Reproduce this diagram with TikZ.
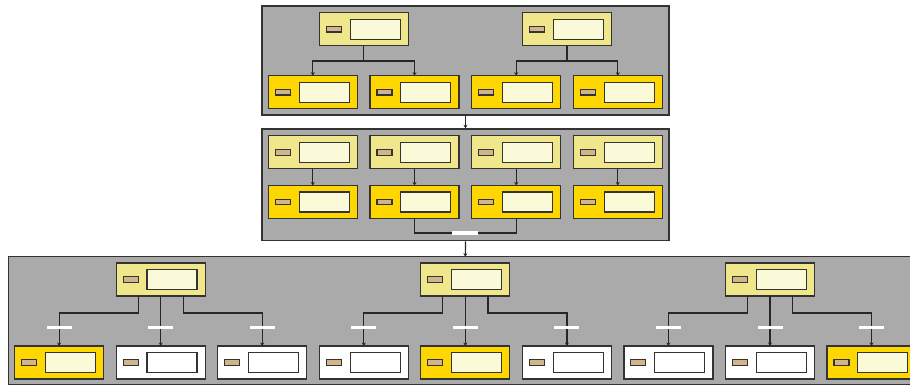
\documentclass[tikz,border=0pt]{standalone}
\usetikzlibrary{arrows.meta}
\definecolor{panelgray}{HTML}{AAAAAA}
\definecolor{khakic}{HTML}{F0E68C}
\definecolor{goldc}{HTML}{FFD700}
\definecolor{creamc}{HTML}{FAFAD8}
\definecolor{tanc}{HTML}{D2B48C}
\definecolor{edgec}{HTML}{333333}
\tikzset{
  panel/.style={draw=edgec,line width=1.4pt,fill=panelgray},
  ubox/.style={draw=edgec,line width=1.3pt,rectangle,minimum width=89pt,minimum height=33pt,inner sep=0pt,outer sep=0pt},
  tanbox/.style={draw=edgec,line width=1.1pt,fill=tanc,rectangle,minimum width=15pt,minimum height=5.6pt,inner sep=0pt},
  inbox/.style={draw=edgec,line width=1.2pt,rectangle,minimum width=50pt,minimum height=20pt,inner sep=0pt},
  conn/.style={draw=black!85,line width=1.2pt},
  arr/.style={conn,-{Stealth[length=3.5pt,width=4pt]}},
  wbar/.style={fill=white,draw=none,rectangle,minimum width=25pt,minimum height=3.8pt,inner sep=0pt}
}
\newcommand\unitbox[5]{%
  \node[ubox,fill=#4] (#1) at (#2,#3) {};
  \node[tanbox] (#1t) at ([xshift=-30pt]#1.center) {};
  \node[inbox,fill=#5] (#1i) at ([xshift=11.3pt]#1.center) {};
}
\begin{document}
\begin{tikzpicture}[x=1pt,y=-1pt]
\useasboundingbox (0,0) rectangle (910,385);
\clip (0,0) rectangle (910,385);
% panels
\node[panel,rectangle,minimum width=407pt,minimum height=109pt,inner sep=0pt] (P1) at (465.5,60.5) {};
\node[panel,rectangle,minimum width=407pt,minimum height=111.7pt,inner sep=0pt] (P2) at (465.5,184.85) {};
\draw[panel] (8.3,256.7) rectangle (930,384.3);
\coordinate (P3top) at (465.3,256.7);
% top panel
\unitbox{ta}{363.8}{29.2}{khakic}{creamc}
\unitbox{tb}{567}{29.2}{khakic}{creamc}
\unitbox{t1}{312.8}{92.2}{goldc}{creamc}
\unitbox{t2}{414.5}{92.2}{goldc}{creamc}
\unitbox{t3}{516.2}{92.2}{goldc}{creamc}
\unitbox{t4}{617.8}{92.2}{goldc}{creamc}
\draw[conn] (ta.south) -- ++(0,15.3) coordinate (ja);
\draw[arr] (ja) -| (t1.north);
\draw[arr] (ja) -| (t2.north);
\draw[conn] (tb.south) -- ++(0,15.3) coordinate (jb);
\draw[arr] (jb) -| (t3.north);
\draw[arr] (jb) -| (t4.north);
% middle panel
\unitbox{ma}{312.8}{152.3}{khakic}{creamc}
\unitbox{mb}{414.5}{152.3}{khakic}{creamc}
\unitbox{mc}{516.2}{152.3}{khakic}{creamc}
\unitbox{md}{617.8}{152.3}{khakic}{creamc}
\unitbox{m1}{312.8}{202}{goldc}{creamc}
\unitbox{m2}{414.5}{202}{goldc}{creamc}
\unitbox{m3}{516.2}{202}{goldc}{creamc}
\unitbox{m4}{617.8}{202}{goldc}{creamc}
\draw[arr] (ma.south) -- (m1.north);
\draw[arr] (mb.south) -- (m2.north);
\draw[arr] (mc.south) -- (m3.north);
\draw[arr] (md.south) -- (m4.north);
\draw[conn] (m2.south) |- ++(51,14.4) coordinate (jm) -| (m3.south);
\node[wbar,minimum width=26pt] (wm) at (465.4,232.6) {};
% between panels
\draw[arr] (P1.south) -- (P2.north);
\draw[arr] (P2.south) -- (P3top);
% bottom panel
\unitbox{ba}{160.7}{279.5}{khakic}{creamc}
\unitbox{bb}{465.3}{279.5}{khakic}{creamc}
\unitbox{bc}{770}{279.5}{khakic}{creamc}
\unitbox{b1}{59.1}{362.5}{goldc}{creamc}
\unitbox{b2}{160.7}{362.5}{white}{white}
\unitbox{b3}{262.2}{362.5}{white}{white}
\unitbox{b4}{363.8}{362.5}{white}{white}
\unitbox{b5}{465.3}{362.5}{goldc}{creamc}
\unitbox{b6}{566.9}{362.5}{white}{white}
\unitbox{b7}{668.4}{362.5}{white}{white}
\unitbox{b8}{770}{362.5}{white}{white}
\unitbox{b9}{871.5}{362.5}{goldc}{creamc}
\foreach \p/\l/\m/\r in {ba/b1/b2/b3, bb/b4/b5/b6, bc/b7/b8/b9}{
  \draw[arr] ([xshift=-22.6pt]\p.south) |- ++(0,17) -| (\l.north);
  \draw[arr] (\p.south) -- (\m.north);
  \draw[arr] ([xshift=22.6pt]\p.south) |- ++(0,17) -| (\r.north);
  \node[wbar] at ([yshift=18.5pt]\l.north) {};
  \node[wbar] at ([yshift=18.5pt]\m.north) {};
  \node[wbar] at ([yshift=18.5pt]\r.north) {};
}
\end{tikzpicture}
\end{document}
